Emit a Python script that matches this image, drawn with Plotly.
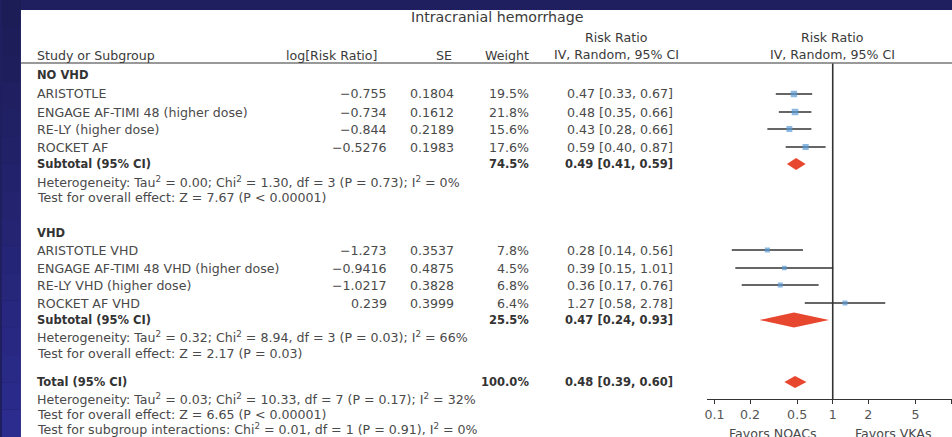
import plotly.graph_objects as go

W, H = 952, 437

# ---------------- data ----------------
title = "Intracranial hemorrhage"
groups = ["NO VHD", "VHD"]
studies_no = ["ARISTOTLE", "ENGAGE AF-TIMI 48 (higher dose)", "RE-LY (higher dose)", "ROCKET AF"]
studies_vhd = ["ARISTOTLE VHD", "ENGAGE AF-TIMI 48 VHD (higher dose)", "RE-LY VHD (higher dose)", "ROCKET AF VHD"]
log_rr_no = [-0.755, -0.734, -0.844, -0.5276]
log_rr_vhd = [-1.273, -0.9416, -1.0217, 0.239]
se_no = [0.1804, 0.1612, 0.2189, 0.1983]
se_vhd = [0.3537, 0.4875, 0.3828, 0.3999]
weight_no = [19.5, 21.8, 15.6, 17.6]
weight_vhd = [7.8, 4.5, 6.8, 6.4]
rr_no = [0.47, 0.48, 0.43, 0.59]
lo_no = [0.33, 0.35, 0.28, 0.40]
hi_no = [0.67, 0.66, 0.66, 0.87]
rr_vhd = [0.28, 0.39, 0.36, 1.27]
lo_vhd = [0.14, 0.15, 0.17, 0.58]
hi_vhd = [0.56, 1.01, 0.76, 2.78]
sub_weight = [74.5, 25.5]
sub_rr = [0.49, 0.47]
sub_lo = [0.41, 0.24]
sub_hi = [0.59, 0.93]
tot_weight = 100.0
tot_rr, tot_lo, tot_hi = 0.48, 0.39, 0.60
het_sub = [
    "Heterogeneity: Tau<sup>2</sup> = 0.00; Chi<sup>2</sup> = 1.30, df = 3 (P = 0.73); I<sup>2</sup> = 0%",
    "Heterogeneity: Tau<sup>2</sup> = 0.32; Chi<sup>2</sup> = 8.94, df = 3 (P = 0.03); I<sup>2</sup> = 66%",
]
effect_sub = ["Test for overall effect: Z = 7.67 (P < 0.00001)",
              "Test for overall effect: Z = 2.17 (P = 0.03)"]
tot_notes = [
    "Heterogeneity: Tau<sup>2</sup> = 0.03; Chi<sup>2</sup> = 10.33, df = 7 (P = 0.17); I<sup>2</sup> = 32%",
    "Test for overall effect: Z = 6.65 (P < 0.00001)",
    "Test for subgroup interactions: Chi<sup>2</sup> = 0.01, df = 1 (P = 0.91), I<sup>2</sup> = 0%",
]
tick_vals = [0.1, 0.2, 0.5, 1, 2, 5, 10]
tick_text = ["0.1", "0.2", "0.5", "1", "2", "5", "10"]
favors = ["Favors NOACs", "Favors VKAs"]

# ---------------- layout (pixel rows / columns) ----------------
ROW_GROUP = [75, 233]
ROW_STUDY = [[94, 112, 129, 147], [250, 268, 285, 303]]
ROW_SUB = [164, 320]
ROW_HET = [182, 337]
ROW_EFF = [197, 353]
ROW_TOT = 382
ROW_TOT_NOTES = [399, 414, 429]
AXIS_Y = 399
HEADER_LINE_Y = 63

X_NAME = 33
X_LOG = 388
X_SE = 455
X_WT = 530
X_CI = 674
X_CI_HDR = 616
X_FOREST_HDR = 832

FONT = "DejaVu Sans"
FS = 12.6
TXT = "#4a4a4a"
BOLD = "#333333"
NAVY = "#1f1f60"


def px(x):
    return x / W


def py(y):
    return 1 - y / H


annotations = []


def txt(x, y, s, anchor="left", bold=False, size=None, color=None):
    if size is None:
        size = 11.5 if bold else FS
    annotations.append(dict(
        x=px(x), y=py(y), xref="paper", yref="paper", text=("<b>%s</b>" % s) if bold else s,
        showarrow=False, xanchor=anchor, yanchor="middle",
        font=dict(family=FONT, size=size, color=color or (BOLD if bold else TXT)),
    ))


def fmt_num(v):
    return str(v).replace("-", "\u2212")


# headers
HDR = "#3a3a3a"
txt(496, 17, title, "center", size=14.2, color=HDR)
txt(X_NAME, 55, "Study or Subgroup", color=HDR)
txt(378, 55, "log[Risk Ratio]", "right", color=HDR)
txt(453, 55, "SE", "right", color=HDR)
txt(X_WT, 55, "Weight", "right", color=HDR)
txt(X_CI_HDR, 38, "Risk Ratio", "center", color=HDR)
txt(X_CI_HDR, 54, "IV, Random, 95% CI", "center", color=HDR)
txt(X_FOREST_HDR, 38, "Risk Ratio", "center", color=HDR)
txt(X_FOREST_HDR, 54, "IV, Random, 95% CI", "center", color=HDR)

all_groups = [
    (studies_no, log_rr_no, se_no, weight_no, rr_no, lo_no, hi_no),
    (studies_vhd, log_rr_vhd, se_vhd, weight_vhd, rr_vhd, lo_vhd, hi_vhd),
]

fig = go.Figure()

ci_x, ci_y = [], []
sq_x, sq_y, sq_s = [], [], []
for g, (names, lrr, se, wt, rr, lo, hi) in enumerate(all_groups):
    txt(X_NAME, ROW_GROUP[g], groups[g], bold=True)
    for i in range(len(names)):
        y = ROW_STUDY[g][i]
        txt(X_NAME, y, names[i])
        txt(X_LOG, y, fmt_num(lrr[i]), "right")
        txt(X_SE, y, fmt_num(se[i]), "right")
        txt(X_WT, y, "%.1f%%" % wt[i], "right")
        txt(X_CI, y, "%.2f [%.2f, %.2f]" % (rr[i], lo[i], hi[i]), "right")
        ci_x += [lo[i], hi[i], None]
        ci_y += [y, y, None]
        sq_x.append(rr[i])
        sq_y.append(y)
        sq_s.append(4.2 + 0.11 * wt[i])
    txt(X_NAME, ROW_SUB[g], "Subtotal (95% CI)", bold=True)
    txt(X_WT, ROW_SUB[g], "%.1f%%" % sub_weight[g], "right", bold=True)
    txt(X_CI, ROW_SUB[g], "%.2f [%.2f, %.2f]" % (sub_rr[g], sub_lo[g], sub_hi[g]), "right", bold=True)
    txt(X_NAME, ROW_HET[g], het_sub[g])
    txt(X_NAME, ROW_EFF[g], effect_sub[g])

txt(X_NAME, ROW_TOT, "Total (95% CI)", bold=True)
txt(X_WT, ROW_TOT, "%.1f%%" % tot_weight, "right", bold=True)
txt(X_CI, ROW_TOT, "%.2f [%.2f, %.2f]" % (tot_rr, tot_lo, tot_hi), "right", bold=True)
for y, s in zip(ROW_TOT_NOTES, tot_notes):
    txt(X_NAME, y, s)

txt(773, 433, favors[0], "center")
txt(893, 433, favors[1], "center")

LINE = "#333333"
# null line
fig.add_trace(go.Scatter(x=[1, 1], y=[HEADER_LINE_Y, AXIS_Y], mode="lines",
                         line=dict(color=LINE, width=1.6), hoverinfo="skip"))
# CI lines
fig.add_trace(go.Scatter(x=ci_x, y=ci_y, mode="lines",
                         line=dict(color=LINE, width=1.3), hoverinfo="skip"))
# squares
fig.add_trace(go.Scatter(x=sq_x, y=sq_y, mode="markers",
                         marker=dict(symbol="square", size=sq_s, color="#5b9bd5", line=dict(width=0))))

# diamonds
RED = "#e8472f"
DIAMOND_H = [6, 7.5]
for g in range(2):
    y = ROW_SUB[g]
    h = DIAMOND_H[g]
    fig.add_trace(go.Scatter(
        x=[sub_lo[g], sub_rr[g], sub_hi[g], sub_rr[g], sub_lo[g]],
        y=[y, y - h, y, y + h, y], mode="lines", fill="toself",
        fillcolor=RED, line=dict(width=0, color=RED), hoverinfo="skip"))
fig.add_trace(go.Scatter(
    x=[tot_lo, tot_rr, tot_hi, tot_rr, tot_lo],
    y=[ROW_TOT, ROW_TOT - 6, ROW_TOT, ROW_TOT + 6, ROW_TOT], mode="lines", fill="toself",
    fillcolor=RED, line=dict(width=0, color=RED), hoverinfo="skip"))

# background shapes
shapes = []
N = 16
c0 = (0x1c, 0x1c, 0x56)
c1 = (0x2c, 0x2c, 0x8e)
for k in range(N):
    t = k / (N - 1)
    col = "rgb(%d,%d,%d)" % tuple(int(a + (b - a) * t) for a, b in zip(c0, c1))
    shapes.append(dict(type="rect", xref="paper", yref="paper", x0=0, x1=px(19),
                       y0=py(H * (k + 1) / N), y1=py(H * k / N), fillcolor=col, line=dict(width=0), layer="below"))
shapes.append(dict(type="rect", xref="paper", yref="paper", x0=px(19), x1=1, y0=0, y1=py(10),
                   fillcolor="white", line=dict(width=0), layer="below"))
shapes.append(dict(type="line", xref="paper", yref="paper", x0=px(19), x1=1,
                   y0=py(HEADER_LINE_Y), y1=py(HEADER_LINE_Y), line=dict(color="#777", width=1.5)))

lo_px, hi_px, one_px, dec_px = 706, 953, 833, 119
fig.update_layout(
    width=W, height=H, margin=dict(l=0, r=0, t=0, b=0),
    paper_bgcolor=NAVY, plot_bgcolor="rgba(0,0,0,0)",
    showlegend=False, shapes=shapes, annotations=annotations,
    xaxis=dict(type="log", domain=[px(lo_px), 1],
               range=[(lo_px - one_px) / dec_px, (hi_px - one_px) / dec_px],
               tickvals=tick_vals, ticktext=tick_text, ticks="outside", ticklen=4,
               tickcolor=LINE, showline=True, linecolor=LINE, linewidth=1.3,
               showgrid=False, zeroline=False,
               tickfont=dict(family=FONT, size=FS, color="#555")),
    yaxis=dict(domain=[py(AXIS_Y), 1], range=[AXIS_Y, 0], visible=False, showgrid=False),
)

fig.write_html("out.html", config={"displayModeBar": False},
               post_script="document.body.style.margin='0';document.body.style.overflow='hidden';")
